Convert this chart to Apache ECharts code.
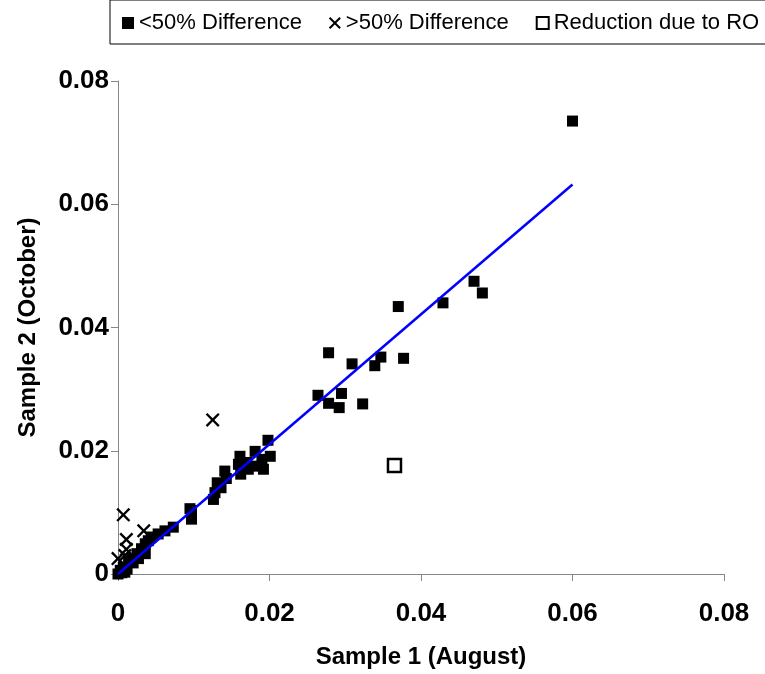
<!DOCTYPE html>
<html>
<head>
<meta charset="utf-8">
<script src="https://cdn.jsdelivr.net/npm/echarts@6/dist/echarts.min.js"></script>
<style>
  html, body { margin: 0; padding: 0; background: #fff; }
  #chart { width: 765px; height: 674px; }
</style>
</head>
<body>
<div id="chart"></div>
<script>
// [August, October]
const underFifty = [
  [0.0000, 0.0000], [0.0003, 0.0006], [0.0005, 0.0002], [0.0007, 0.0011], [0.0009, 0.0003],
  [0.0012, 0.0008], [0.0014, 0.0019], [0.0018, 0.0025], [0.0020, 0.0018], [0.0025, 0.0033],
  [0.0027, 0.0025], [0.0031, 0.0041], [0.0036, 0.0049], [0.0036, 0.0033], [0.0040, 0.0054],
  [0.0044, 0.0060], [0.0053, 0.0065], [0.0062, 0.0070], [0.0073, 0.0076], [0.0095, 0.0106],
  [0.0097, 0.0103], [0.0097, 0.0089],
  [0.0126, 0.0121], [0.0128, 0.0132], [0.0131, 0.0148], [0.0136, 0.0140], [0.0141, 0.0167],
  [0.0143, 0.0155], [0.0159, 0.0178], [0.0161, 0.0191], [0.0162, 0.0162], [0.0170, 0.0181],
  [0.0172, 0.0170], [0.0181, 0.0199], [0.0184, 0.0175], [0.0190, 0.0186], [0.0192, 0.0170],
  [0.0198, 0.0217], [0.0201, 0.0191],
  [0.0264, 0.0290], [0.0278, 0.0277], [0.0278, 0.0359], [0.0292, 0.0270], [0.0295, 0.0293],
  [0.0309, 0.0341], [0.0323, 0.0276], [0.0339, 0.0338], [0.0347, 0.0352], [0.0370, 0.0434],
  [0.0377, 0.0350], [0.0429, 0.0440], [0.0470, 0.0475], [0.0481, 0.0456], [0.0600, 0.0735]
];
const overFifty = [
  [0.0007, 0.0096], [0.0011, 0.0056], [0.0011, 0.0040], [0.0034, 0.0070],
  [0.0000, 0.0025], [0.0009, 0.0030], [0.0125, 0.0250]
];
const roReduction = [[0.0365, 0.0176]];
const trendLine = [[0, 0], [0.06, 0.0632]];
const axisMax = 0.08;
const axisStep = 0.02;

const crossPath = 'path://M0,1.2L1.2,0L5,3.8L8.8,0L10,1.2L6.2,5L10,8.8L8.8,10L5,6.2L1.2,10L0,8.8L3.8,5Z';
const FONT = 'Liberation Sans, Arial, sans-serif';

const chart = echarts.init(document.getElementById('chart'));

const axisCommon = {
  type: 'value',
  min: 0,
  max: axisMax,
  interval: axisStep,
  nameLocation: 'middle',
  nameTextStyle: { fontFamily: FONT, fontWeight: 'bold', fontSize: 24, color: '#000' },
  axisLine: { lineStyle: { color: '#868686', width: 1 } },
  axisTick: { show: true, inside: false, length: 7, lineStyle: { color: '#868686' } },
  splitLine: { show: false },
  axisLabel: {
    fontFamily: FONT, fontWeight: 'bold', fontSize: 26, color: '#000',
    formatter: v => (v === 0 ? '0' : v.toFixed(2))
  }
};

const option = {
  backgroundColor: '#fff',
  animation: false,
  legend: {
    left: 110,
    top: 0,
    width: 900,
    padding: [12, 40, 10, 12],
    borderColor: '#000',
    borderWidth: 1,
    itemGap: 27,
    itemWidth: 12,
    itemHeight: 12,
    data: ['<50% Difference', '>50% Difference', 'Reduction due to RO'],
    textStyle: { fontFamily: FONT, fontSize: 22, color: '#000' }
  },
  grid: { left: 118, right: 41, top: 81, bottom: 97 },
  xAxis: Object.assign({}, axisCommon, {
    name: 'Sample 1 (August)',
    nameGap: 71,
    axisLabel: Object.assign({}, axisCommon.axisLabel, { margin: 27 })
  }),
  yAxis: Object.assign({}, axisCommon, {
    name: 'Sample 2 (October)',
    nameGap: 78,
    axisLabel: Object.assign({}, axisCommon.axisLabel, { margin: 9 })
  }),
  series: [
    {
      name: '<50% Difference',
      type: 'scatter',
      symbol: 'rect',
      symbolSize: 11,
      itemStyle: { color: '#000', opacity: 1 },
      data: underFifty
    },
    {
      name: '>50% Difference',
      type: 'scatter',
      symbol: crossPath,
      symbolSize: 14,
      itemStyle: { color: '#000', opacity: 1 },
      data: overFifty
    },
    {
      name: 'Reduction due to RO',
      type: 'scatter',
      symbol: 'rect',
      symbolSize: 13,
      itemStyle: { color: '#fff', borderColor: '#000', borderWidth: 2.5, opacity: 1 },
      data: roReduction
    },
    {
      name: 'Trend',
      type: 'line',
      symbol: 'none',
      lineStyle: { color: '#0000ff', width: 2.5 },
      data: trendLine,
      z: 5
    }
  ]
};

chart.setOption(option);
</script>
</body>
</html>
